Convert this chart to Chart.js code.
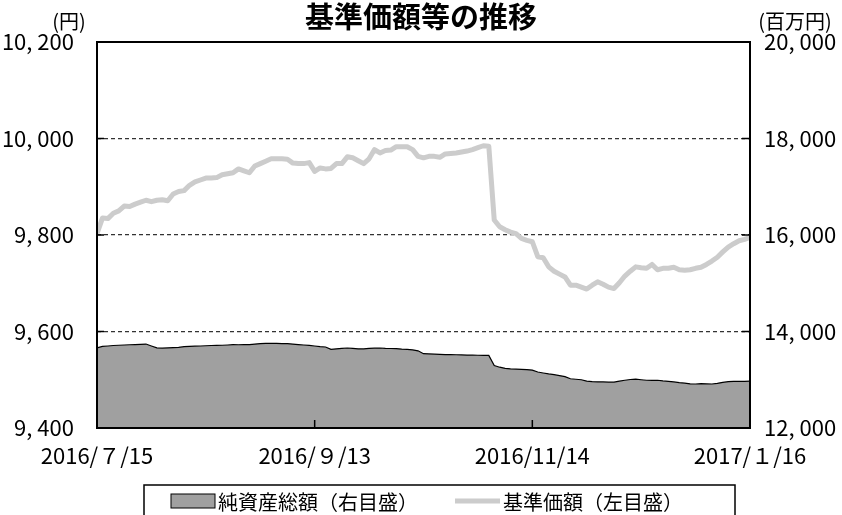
<!DOCTYPE html>
<html lang="ja">
<head>
<meta charset="utf-8">
<title>基準価額等の推移</title>
<script src="https://cdn.jsdelivr.net/npm/chart.js@4.4.1/dist/chart.umd.min.js"></script>
<style>
  html, body { margin: 0; padding: 0; background: #fff; }
</style>
</head>
<body>
<canvas id="navChart" width="842" height="515"></canvas>
<script>
// x axis: trading day index, a label every 40 days
const tickLabels = ['2016/７/15', '2016/９/13', '2016/11/14', '2017/１/16'];
const tickEvery = 40;

// 基準価額 (円), left axis
const navValues = [
  9803, 9835, 9834, 9845, 9850, 9860, 9859, 9864, 9868, 9872,
  9869, 9872, 9873, 9871, 9885, 9890, 9892, 9903, 9910, 9914,
  9918, 9918, 9919, 9925, 9927, 9929, 9937, 9933, 9929, 9943,
  9948, 9953, 9958, 9958, 9958, 9957, 9949, 9948, 9948, 9950,
  9932, 9939, 9937, 9938, 9948, 9948, 9962, 9960, 9954, 9948,
  9958, 9977, 9970, 9975, 9976, 9983, 9983, 9983, 9977, 9963,
  9960, 9963, 9963, 9961, 9968, 9969, 9970, 9972, 9974, 9977,
  9981, 9985, 9984, 9831, 9817, 9811, 9806, 9803, 9793, 9789,
  9786, 9755, 9753, 9734, 9725, 9719, 9713, 9696, 9696, 9692,
  9688, 9696, 9703, 9698, 9692, 9689, 9701, 9715, 9725, 9734,
  9732, 9731, 9739, 9728, 9731, 9731, 9733, 9728, 9727, 9728,
  9731, 9733, 9739, 9746, 9754, 9765, 9775, 9782, 9788, 9791,
  9795
];

// 純資産総額 (百万円), right axis
const assetValues = [
  13660, 13690, 13700, 13710, 13715, 13720, 13725, 13730, 13735, 13740,
  13700, 13660, 13655, 13660, 13665, 13670, 13685, 13690, 13695, 13700,
  13705, 13710, 13712, 13715, 13720, 13727, 13725, 13728, 13727, 13740,
  13750, 13754, 13755, 13752, 13750, 13748, 13740, 13730, 13720, 13712,
  13700, 13685, 13679, 13630, 13640, 13650, 13658, 13650, 13640, 13638,
  13650, 13655, 13658, 13650, 13648, 13644, 13635, 13629, 13620, 13600,
  13540, 13535, 13530, 13525, 13522, 13520, 13518, 13515, 13512, 13510,
  13508, 13506, 13505, 13295, 13260, 13235, 13225, 13220, 13215, 13210,
  13200, 13160, 13140, 13120, 13105, 13085, 13065, 13020, 13010, 13000,
  12970, 12962, 12958, 12955, 12950, 12950, 12970, 12990, 13005, 13012,
  13000, 12990, 12985, 12990, 12975, 12965, 12955, 12940, 12930, 12915,
  12912, 12918, 12915, 12912, 12925, 12945, 12960, 12966, 12966, 12966,
  12970
];

const navLabel = '基準価額（左目盛）';
const assetLabel = '純資産総額（右目盛）';

const jpFamily = '"Noto Sans CJK JP", sans-serif';
const numFont = { family: '"Liberation Sans Narrow", "Noto Sans CJK JP", sans-serif', size: 22 };

function withComma(v) {
  return v.toLocaleString('en-US').replace(',', ', ');
}

// frame, inward ticks, unit captions and the boxed legend
const framePlugin = {
  id: 'frame',
  afterDatasetsDraw(chart) {
    const { ctx, chartArea: a, scales } = chart;
    ctx.save();
    ctx.strokeStyle = '#000';
    ctx.lineWidth = 1.5;
    ctx.beginPath();
    scales.y.ticks.forEach(t => {
      const y = scales.y.getPixelForValue(t.value);
      ctx.moveTo(a.left, y);
      ctx.lineTo(a.left + 7, y);
    });
    scales.y1.ticks.forEach(t => {
      const y = scales.y1.getPixelForValue(t.value);
      ctx.moveTo(a.right, y);
      ctx.lineTo(a.right - 8, y);
    });
    scales.x.ticks.forEach(t => {
      const x = scales.x.getPixelForValue(t.value);
      ctx.moveTo(x, a.bottom);
      ctx.lineTo(x, a.bottom - 8);
    });
    ctx.stroke();
    ctx.lineWidth = 2;
    ctx.strokeRect(a.left, a.top, a.right - a.left, a.bottom - a.top);
    ctx.restore();
  },
  afterDraw(chart) {
    const { ctx } = chart;
    const [navSet, assetSet] = chart.data.datasets;
    ctx.save();
    ctx.fillStyle = '#000';
    ctx.textBaseline = 'middle';
    ctx.font = '20px ' + jpFamily;
    ctx.textAlign = 'center';
    ctx.fillText('(円)', 69, 21);
    ctx.fillText('(百万円)', 795, 21);

    // legend
    ctx.font = '20px ' + jpFamily;
    ctx.textAlign = 'left';
    ctx.lineWidth = 1.5;
    ctx.strokeStyle = '#000';
    ctx.strokeRect(144, 485, 591, 40);

    ctx.fillStyle = assetSet.backgroundColor;
    ctx.fillRect(171, 494, 44, 14);
    ctx.lineWidth = 1;
    ctx.strokeRect(171, 494, 44, 14);
    ctx.fillStyle = '#000';
    ctx.fillText(assetSet.label, 218, 502);

    ctx.strokeStyle = navSet.borderColor;
    ctx.lineWidth = navSet.borderWidth;
    ctx.beginPath();
    ctx.moveTo(455, 501);
    ctx.lineTo(500, 501);
    ctx.stroke();
    ctx.fillText(navSet.label, 503, 502);
    ctx.restore();
  }
};

const ctx = document.getElementById('navChart').getContext('2d');
const navChart = new Chart(ctx, {
  type: 'line',
  data: {
    datasets: [
      {
        label: navLabel,
        data: navValues.map((v, i) => ({ x: i, y: v })),
        yAxisID: 'y',
        borderColor: '#cccccc',
        borderWidth: 5,
        borderJoinStyle: 'round',
        pointRadius: 0,
        fill: false,
        tension: 0
      },
      {
        label: assetLabel,
        data: assetValues.map((v, i) => ({ x: i, y: v })),
        yAxisID: 'y1',
        borderColor: '#000',
        borderWidth: 1.2,
        backgroundColor: '#a0a0a0',
        pointRadius: 0,
        fill: 'start',
        tension: 0
      }
    ]
  },
  options: {
    responsive: false,
    devicePixelRatio: 1,
    animation: false,
    layout: { padding: 0 },
    plugins: {
      legend: { display: false },
      tooltip: { enabled: false },
      title: {
        display: true,
        text: '基準価額等の推移',
        color: '#000',
        font: { family: jpFamily, size: 29, weight: 'bold' },
        padding: { top: 0, bottom: 7.2 }
      }
    },
    scales: {
      x: {
        type: 'linear',
        min: 0,
        max: navValues.length - 1,
        grid: { display: false, drawTicks: false },
        border: { display: false },
        ticks: {
          stepSize: tickEvery,
          autoSkip: false,
          maxRotation: 0,
          color: '#000',
          font: numFont,
          padding: 14,
          callback: v => tickLabels[v / tickEvery]
        },
        afterFit: s => { s.height = 87; }
      },
      y: {
        position: 'left',
        min: 9400,
        max: 10200,
        z: 1,
        grid: { color: '#333', lineWidth: 1.2, drawTicks: false },
        border: { display: false, dash: [4, 3] },
        ticks: {
          stepSize: 200,
          color: '#000',
          font: numFont,
          padding: 23,
          callback: v => withComma(v)
        },
        afterFit: s => { s.width = 97; }
      },
      y1: {
        position: 'right',
        min: 12000,
        max: 20000,
        grid: { display: false, drawTicks: false },
        border: { display: false },
        ticks: {
          stepSize: 2000,
          color: '#000',
          font: numFont,
          padding: 14,
          callback: v => withComma(v)
        },
        afterFit: s => { s.width = 92; }
      }
    }
  },
  plugins: [framePlugin]
});
</script>
</body>
</html>
